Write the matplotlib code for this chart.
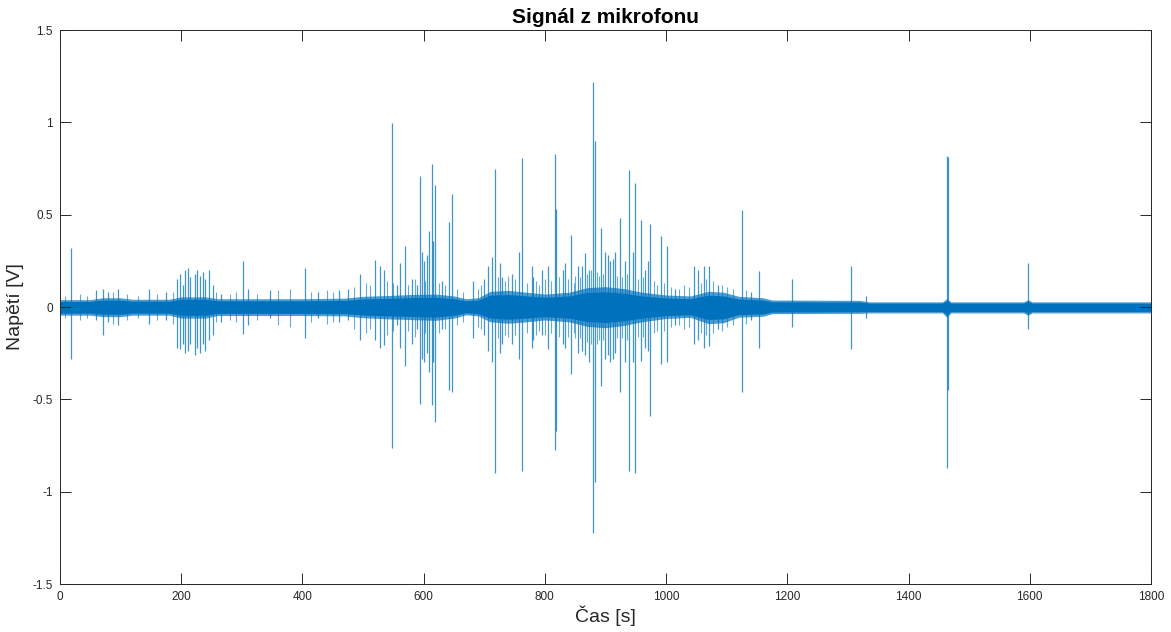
import numpy as np
import matplotlib
matplotlib.use("Agg")
import matplotlib.pyplot as plt
from matplotlib.ticker import FixedLocator, FixedFormatter

plt.rcParams['font.family'] = ['Liberation Sans', 'DejaVu Sans']

# obálka šumového pásma (čas [s], horní a dolní mez [V])
band_t  = [0, 50, 70, 100, 120, 180, 200, 240, 260, 330, 400, 470, 500, 540, 580, 620, 650,
           670, 690, 710, 740, 770, 800, 840, 870, 900, 930, 960, 1000, 1040, 1070, 1095,
           1120, 1160, 1175, 1320, 1335, 1456, 1463, 1470, 1590, 1597, 1604, 1800]
band_hi = [0.040, 0.040, 0.050, 0.050, 0.042, 0.042, 0.055, 0.055, 0.045, 0.045, 0.045,
           0.048, 0.058, 0.062, 0.068, 0.070, 0.060, 0.045, 0.050, 0.085, 0.090, 0.080,
           0.070, 0.080, 0.105, 0.110, 0.100, 0.080, 0.065, 0.060, 0.085, 0.080, 0.058,
           0.050, 0.038, 0.036, 0.028, 0.028, 0.045, 0.028, 0.028, 0.040, 0.028, 0.028]
band_lo = [-0.044, -0.044, -0.052, -0.052, -0.044, -0.044, -0.060, -0.060, -0.046, -0.046,
           -0.046, -0.048, -0.058, -0.064, -0.068, -0.072, -0.060, -0.042, -0.048, -0.080,
           -0.088, -0.080, -0.070, -0.080, -0.105, -0.112, -0.100, -0.080, -0.062, -0.056,
           -0.090, -0.085, -0.055, -0.050, -0.036, -0.034, -0.032, -0.032, -0.055, -0.032,
           -0.032, -0.045, -0.032, -0.032]

# výrazné špičky: čas [s], maximum, minimum [V]
spike_t = [19, 59, 71, 80, 96, 147, 175,
           193, 198, 203, 207, 211, 215, 222, 226, 231, 236, 240, 246, 252,
           265, 302, 310, 346, 404, 425, 460, 476, 495, 520, 528, 535, 547, 556, 561, 569,
           580, 589, 594, 597, 600, 606, 609, 613, 616, 619, 630, 642, 647, 682, 700, 706,
           712, 718, 726, 730, 745, 757, 763, 778, 780, 795, 805, 816, 818, 830, 833, 843,
           855, 861, 867, 873, 880, 882, 892, 900, 904, 908, 913, 915, 924, 932, 939, 945,
           949, 958, 966, 970, 974, 992, 1001, 1015, 1046, 1052, 1063, 1071, 1085, 1125,
           1140, 1154, 1208, 1305, 1330, 1463, 1465, 1597]
spike_hi = [0.32, 0.09, 0.10, 0.08, 0.10, 0.10, 0.08,
            0.15, 0.18, 0.12, 0.20, 0.21, 0.16, 0.18, 0.20, 0.17, 0.19, 0.15, 0.20, 0.12,
            0.07, 0.25, 0.10, 0.09, 0.21, 0.08, 0.09, 0.10, 0.18, 0.255, 0.22, 0.20, 0.995,
            0.12, 0.24, 0.33, 0.15, 0.12, 0.71, 0.30, 0.25, 0.28, 0.41, 0.775, 0.36, 0.66,
            0.14, 0.46, 0.61, 0.14, 0.15, 0.22, 0.27, 0.75, 0.24, 0.16, 0.18, 0.30, 0.805,
            0.22, 0.16, 0.20, 0.22, 0.83, 0.53, 0.20, 0.24, 0.39, 0.22, 0.22, 0.29, 0.20,
            1.22, 0.90, 0.43, 0.30, 0.28, 0.25, 0.26, 0.30, 0.48, 0.25, 0.74, 0.30, 0.67,
            0.47, 0.20, 0.25, 0.45, 0.385, 0.33, 0.10, 0.22, 0.20, 0.22, 0.22, 0.12, 0.525,
            0.08, 0.195, 0.15, 0.22, 0.06, 0.82, 0.81, 0.24]
spike_lo = [-0.28, -0.07, -0.15, -0.08, -0.10, -0.09, -0.07,
            -0.22, -0.23, -0.20, -0.25, -0.24, -0.20, -0.26, -0.22, -0.25, -0.20, -0.24,
            -0.18, -0.15, -0.08, -0.145, -0.10, -0.06, -0.17, -0.06, -0.08, -0.07, -0.18,
            -0.18, -0.22, -0.205, -0.765, -0.10, -0.22, -0.32, -0.20, -0.12, -0.525, -0.28,
            -0.30, -0.25, -0.35, -0.53, -0.30, -0.62, -0.12, -0.45, -0.46, -0.17, -0.15,
            -0.24, -0.30, -0.90, -0.25, -0.20, -0.20, -0.28, -0.89, -0.22, -0.18, -0.15,
            -0.23, -0.775, -0.67, -0.20, -0.22, -0.36, -0.25, -0.24, -0.26, -0.30, -1.225,
            -0.95, -0.43, -0.28, -0.26, -0.30, -0.28, -0.25, -0.46, -0.30, -0.89, -0.30,
            -0.90, -0.29, -0.22, -0.24, -0.59, -0.31, -0.30, -0.10, -0.20, -0.18, -0.22,
            -0.21, -0.12, -0.46, -0.07, -0.22, -0.11, -0.23, -0.06, -0.87, -0.45, -0.12]

# drobné zákmity nad šumem
minor_t = [8, 33, 45, 88, 110, 128, 160, 186, 258, 280, 290, 325, 360, 380, 415, 440, 450,
           485, 505, 512, 540, 550, 575, 585, 603, 625, 636, 655, 665, 690, 695, 722, 735,
           740, 750, 770, 786, 790, 800, 810, 823, 838, 848, 850, 858, 870, 876, 886, 889,
           896, 919, 928, 935, 953, 962, 980, 985, 996, 1008, 1022, 1030, 1038, 1058, 1066,
           1078, 1092, 1100, 1110, 1132]
minor_hi = [0.06, 0.07, 0.06, 0.08, 0.07, 0.06, 0.07, 0.08, 0.08, 0.07, 0.08, 0.07, 0.09,
            0.10, 0.08, 0.09, 0.08, 0.11, 0.13, 0.12, 0.14, 0.13, 0.12, 0.15, 0.14, 0.13,
            0.12, 0.10, 0.08, 0.10, 0.12, 0.16, 0.14, 0.17, 0.15, 0.13, 0.14, 0.12, 0.15,
            0.14, 0.16, 0.15, 0.13, 0.17, 0.16, 0.18, 0.20, 0.19, 0.17, 0.18, 0.17, 0.16,
            0.18, 0.15, 0.16, 0.14, 0.12, 0.13, 0.11, 0.10, 0.12, 0.11, 0.13, 0.15, 0.14,
            0.12, 0.11, 0.10, 0.09]
minor_lo = [-0.06, -0.07, -0.06, -0.09, -0.07, -0.06, -0.07, -0.09, -0.08, -0.07, -0.08,
            -0.07, -0.10, -0.11, -0.08, -0.09, -0.08, -0.12, -0.14, -0.12, -0.15, -0.13,
            -0.13, -0.16, -0.14, -0.14, -0.12, -0.10, -0.08, -0.11, -0.12, -0.17, -0.15,
            -0.16, -0.15, -0.14, -0.15, -0.13, -0.15, -0.14, -0.16, -0.16, -0.14, -0.17,
            -0.17, -0.19, -0.20, -0.20, -0.18, -0.18, -0.17, -0.17, -0.18, -0.16, -0.16,
            -0.14, -0.13, -0.13, -0.11, -0.10, -0.12, -0.11, -0.14, -0.15, -0.14, -0.13,
            -0.11, -0.10, -0.09]

x_ticks = [0, 200, 400, 600, 800, 1000, 1200, 1400, 1600, 1800]
y_ticks = [-1.5, -1, -0.5, 0, 0.5, 1, 1.5]
y_labels = ["-1.5", "-1", "-0.5", "0", "0.5", "1", "1.5"]

blue = "#0072BD"
dark = "#262626"

fig = plt.figure(figsize=(11.71, 6.32), dpi=100)
ax = fig.add_axes([0.0512, 0.0759, 0.9317, 0.8766])

# šum: plné jádro a průsvitný okraj
hi = np.array(band_hi)
lo = np.array(band_lo)
ax.fill_between(band_t, lo, hi, color=blue, alpha=0.7, linewidth=0)
ax.fill_between(band_t, 0.75 * lo, 0.75 * hi, color=blue, linewidth=0)
ax.vlines(minor_t, minor_lo, minor_hi, color=blue, linewidth=0.8, alpha=0.6)
ax.vlines(spike_t, spike_lo, spike_hi, color=blue, linewidth=0.9, alpha=0.75)

ax.set_xlim(0, 1800)
ax.set_ylim(-1.5, 1.5)
ax.xaxis.set_major_locator(FixedLocator(x_ticks))
ax.yaxis.set_major_locator(FixedLocator(y_ticks))
ax.yaxis.set_major_formatter(FixedFormatter(y_labels))
ax.tick_params(direction="in", length=8, width=0.7, colors=dark, labelsize=8.5,
               top=True, right=True, pad=5)
for s in ax.spines.values():
    s.set_color(dark)
    s.set_linewidth(0.7)

ax.set_title("Signál z mikrofonu", fontsize=15, fontweight="bold", color="black", pad=5)
ax.set_xlabel("Čas [s]", fontsize=14, color=dark, labelpad=2)
ax.set_ylabel("Napětí [V]", fontsize=14, color=dark, labelpad=6)

fig.savefig("out.png", dpi=100)
